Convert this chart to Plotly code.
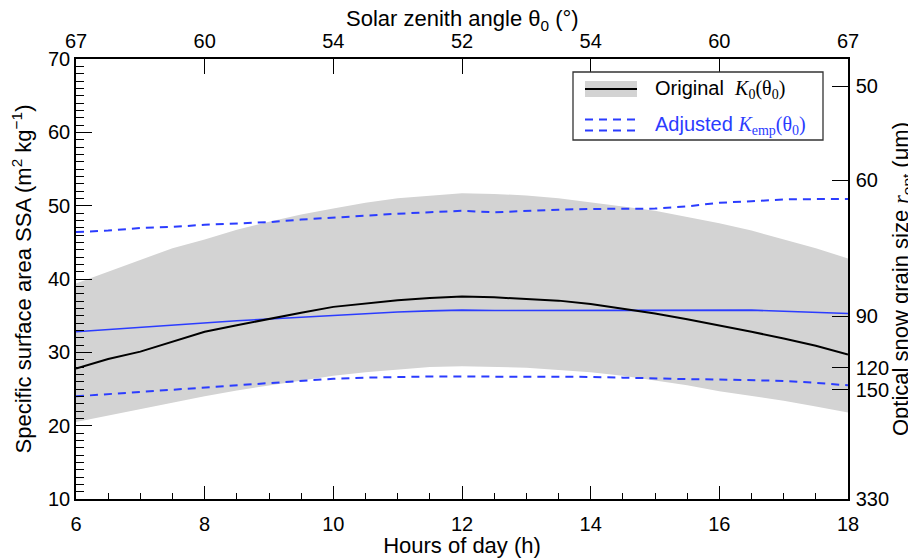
import plotly.graph_objects as go

# ---------------- data ----------------
hours = [6, 6.5, 7, 7.5, 8, 8.5, 9, 9.5, 10, 10.5, 11, 11.5, 12,
         12.5, 13, 13.5, 14, 14.5, 15, 15.5, 16, 16.5, 17, 17.5, 18]

band_upper = [39.4, 41.0, 42.7, 44.2, 45.4, 46.7, 47.8, 48.8, 49.6, 50.4, 51.0, 51.4, 51.7,
              51.6, 51.4, 51.0, 50.5, 49.9, 49.3, 48.5, 47.6, 46.6, 45.4, 44.2, 42.8]
band_lower = [20.5, 21.4, 22.25, 23.1, 24.0, 24.8, 25.5, 26.2, 26.8, 27.3, 27.7, 28.0, 28.1,
              28.0, 27.9, 27.6, 27.3, 26.8, 26.2, 25.5, 24.7, 24.1, 23.4, 22.6, 21.8]
original_k0 = [27.8, 29.1, 30.1, 31.5, 32.8, 33.7, 34.6, 35.4, 36.2, 36.7, 37.1, 37.4, 37.6,
               37.5, 37.3, 37.05, 36.6, 36.0, 35.3, 34.5, 33.7, 32.8, 31.9, 30.9, 29.7]
adjusted_kemp = [32.8, 33.1, 33.5, 33.8, 34.1, 34.3, 34.55, 34.8, 35.05, 35.3, 35.5, 35.65, 35.75,
                 35.7, 35.7, 35.75, 35.7, 35.7, 35.7, 35.8, 35.8, 35.75, 35.6, 35.5, 35.3]
adjusted_upper = [46.4, 46.6, 46.95, 47.1, 47.4, 47.6, 47.75, 48.1, 48.4, 48.7, 48.9, 49.1, 49.3,
                  49.1, 49.3, 49.45, 49.55, 49.6, 49.6, 49.9, 50.4, 50.6, 50.85, 50.9, 50.9]
adjusted_lower = [24.0, 24.3, 24.6, 24.95, 25.3, 25.6, 25.85, 26.15, 26.4, 26.55, 26.65, 26.7, 26.7,
                  26.7, 26.7, 26.65, 26.65, 26.55, 26.4, 26.35, 26.3, 26.2, 26.1, 25.85, 25.5]

# axis ticks
hour_ticks = [6, 8, 10, 12, 14, 16, 18]
zenith_labels = ["67", "60", "54", "52", "54", "60", "67"]
grain_tick_labels = ["50", "60", "90", "120", "150", "330"]
grain_tick_ssa = [66.3, 53.5, 34.9, 27.9, 24.9, 10.0]

# ---------------- style ----------------
BLUE = "#2b3cff"
GREY = "#d3d3d3"
FONT = "Liberation Sans"
SERIF = "Liberation Serif"
FS = 20
FT = 22

fig = go.Figure()

fig.add_trace(go.Scatter(x=hours, y=band_lower, mode="lines", line=dict(width=0, color=GREY),
                         hoverinfo="skip", showlegend=False))
fig.add_trace(go.Scatter(x=hours, y=band_upper, mode="lines", line=dict(width=0, color=GREY),
                         fill="tonexty", fillcolor=GREY, showlegend=False))
fig.add_trace(go.Scatter(x=hours, y=adjusted_upper, mode="lines",
                         line=dict(color=BLUE, width=2, dash="8px,6px"), showlegend=False))
fig.add_trace(go.Scatter(x=hours, y=adjusted_lower, mode="lines",
                         line=dict(color=BLUE, width=2, dash="8px,6px"), showlegend=False))
fig.add_trace(go.Scatter(x=hours, y=adjusted_kemp, mode="lines",
                         line=dict(color=BLUE, width=1.6), showlegend=False))
fig.add_trace(go.Scatter(x=hours, y=original_k0, mode="lines",
                         line=dict(color="black", width=2), showlegend=False))
# invisible trace to activate the secondary (top / right) axes
fig.add_trace(go.Scatter(x=hours, y=original_k0, mode="lines", xaxis="x2", yaxis="y2",
                         line=dict(color="rgba(0,0,0,0)", width=0), hoverinfo="skip",
                         showlegend=False))

axis_common = dict(showline=True, linecolor="black", linewidth=1.5, ticks="inside",
                   tickcolor="black", tickwidth=1.3, showgrid=False, zeroline=False,
                   automargin=False,
                   tickfont=dict(family=FONT, size=FS, color="black"))

# the page body has an 8px offset, so the figure is 8px smaller and margins shifted
fig.update_layout(
    width=908, height=550,
    margin=dict(l=68, r=68, t=51, b=59),
    paper_bgcolor="white", plot_bgcolor="white",
    font=dict(family=FONT, size=FS, color="black"),
    xaxis=dict(range=[6, 18], tickvals=hour_ticks, ticklen=13, ticklabelstandoff=6,
               minor=dict(dtick=0.5, ticklen=6, ticks="inside", tickcolor="black", tickwidth=1.2),
               title=dict(text="Hours of day (h)", font=dict(family=FONT, size=FT), standoff=2),
               **axis_common),
    xaxis2=dict(range=[6, 18], overlaying="x", side="top", tickvals=hour_ticks,
                ticktext=zenith_labels, ticklen=15, ticklabelstandoff=1,
                **axis_common),
    yaxis=dict(range=[10, 70], tickvals=[10, 20, 30, 40, 50, 60, 70], ticklen=16,
               minor=dict(dtick=1, ticklen=8, ticks="inside", tickcolor="black", tickwidth=1.2),
               title=dict(text="Specific surface area SSA (m<sup>2</sup> kg<sup>−1</sup>)",
                          font=dict(family=FONT, size=FT), standoff=14),
               **axis_common),
    yaxis2=dict(range=[10, 70], overlaying="y", side="right", tickvals=grain_tick_ssa,
                ticktext=grain_tick_labels, ticklen=16, ticklabelstandoff=2,
                title=dict(text='Optical snow grain size <span style="font-family:%s"><i>r</i></span>'
                                '<sub>opt</sub> (μm)' % SERIF,
                           font=dict(family=FONT, size=FT), standoff=0),
                **axis_common),
)

# ---------------- hand-drawn legend ----------------
def px(xp):
    return (xp - 76) / 772.0

def py(yp):
    return (499 - yp) / 440.0

# top axis title
fig.add_annotation(xref="paper", yref="paper", x=0.5, y=py(20), xanchor="center", yanchor="middle",
                   showarrow=False, font=dict(family=FONT, size=FT, color="black"),
                   text="Solar zenith angle θ<sub>0</sub> (°)")

shapes = [
    dict(type="rect", xref="paper", yref="paper", x0=px(573), x1=px(823), y0=py(140), y1=py(72),
         line=dict(color="#333333", width=1.3), fillcolor="white", layer="above"),
    dict(type="rect", xref="paper", yref="paper", x0=px(585), x1=px(637), y0=py(97), y1=py(81),
         line=dict(width=0), fillcolor=GREY, layer="above"),
    dict(type="line", xref="paper", yref="paper", x0=px(585), x1=px(637), y0=py(89), y1=py(89),
         line=dict(color="black", width=2), layer="above"),
    dict(type="line", xref="paper", yref="paper", x0=px(585), x1=px(637), y0=py(119.5), y1=py(119.5),
         line=dict(color=BLUE, width=2, dash="8px,6px"), layer="above"),
    dict(type="line", xref="paper", yref="paper", x0=px(585), x1=px(637), y0=py(130.5), y1=py(130.5),
         line=dict(color=BLUE, width=2, dash="8px,6px"), layer="above"),
]
fig.update_layout(shapes=shapes)

fig.add_annotation(xref="paper", yref="paper", x=px(653), y=py(89), xanchor="left", yanchor="middle",
                   showarrow=False, font=dict(family=FONT, size=20, color="black"),
                   text='Original  <span style="font-family:%s"><i>K</i><sub>0</sub>(θ<sub>0</sub>)</span>' % SERIF)
fig.add_annotation(xref="paper", yref="paper", x=px(653), y=py(125), xanchor="left", yanchor="middle",
                   showarrow=False, font=dict(family=FONT, size=20, color=BLUE),
                   text='Adjusted <span style="font-family:%s"><i>K</i><sub>emp</sub>(θ<sub>0</sub>)</span>' % SERIF)

fig.write_html("out.html")
